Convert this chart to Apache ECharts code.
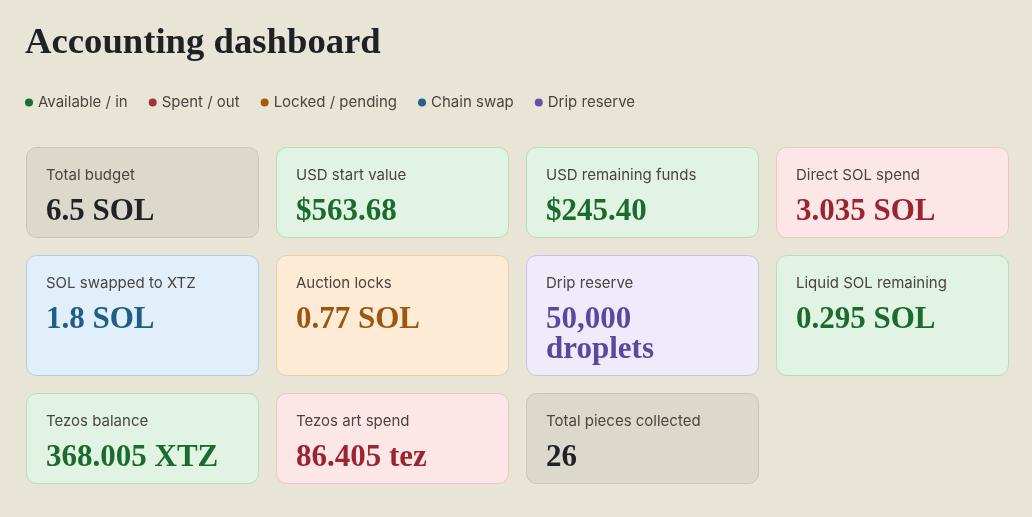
<!DOCTYPE html>
<html>
<head>
<meta charset="utf-8">
<title>Accounting dashboard</title>
<style>
  html, body { margin: 0; padding: 0; background: #e8e5d7; }
  #chart { width: 1032px; height: 517px; }
</style>
<script src="https://cdn.jsdelivr.net/npm/echarts@6/dist/echarts.min.js"></script>
</head>
<body>
<div id="chart"></div>
<script>
// card data, read left to right, top to bottom
var cardLabels = ['Total budget', 'USD start value', 'USD remaining funds', 'Direct SOL spend',
  'SOL swapped to XTZ', 'Auction locks', 'Drip reserve', 'Liquid SOL remaining',
  'Tezos balance', 'Tezos art spend', 'Total pieces collected'];
var cardValues = ['6.5 SOL', '$563.68', '$245.40', '3.035 SOL',
  '1.8 SOL', '0.77 SOL', '50,000\ndroplets', '0.295 SOL',
  '368.005 XTZ', '86.405 tez', '26'];
var cardKinds = ['neutral', 'in', 'in', 'out',
  'swap', 'locked', 'drip', 'in',
  'in', 'out', 'neutral'];
var columns = ['c1', 'c2', 'c3', 'c4'];

var legendNames = ['Available / in', 'Spent / out', 'Locked / pending', 'Chain swap', 'Drip reserve'];
var legendKinds = ['in', 'out', 'locked', 'swap', 'drip'];

var palette = {
  neutral: { fill: '#dcd9cc', stroke: '#c9c5b6', text: '#1f2326', dot: '#1f2326' },
  in:      { fill: '#e1f3e2', stroke: '#b7dcba', text: '#1b6b2f', dot: '#1b6e30' },
  out:     { fill: '#fde7e6', stroke: '#efc4c2', text: '#9b2432', dot: '#a5303f' },
  locked:  { fill: '#fdebd6', stroke: '#eccda6', text: '#9c560f', dot: '#a6570f' },
  swap:    { fill: '#e1effb', stroke: '#b3cde0', text: '#215e85', dot: '#24628e' },
  drip:    { fill: '#efebfb', stroke: '#c8c0e6', text: '#5b489e', dot: '#6650a8' }
};

var GAP = 17;      // space between cards
var ROW_H = 91;    // card height for one line of value
var LINE_H = 30;   // extra height per extra value line

function rowOf(i) { return Math.floor(i / columns.length); }

function rowLines(r) {
  var n = 1;
  cardValues.forEach(function (v, i) {
    if (rowOf(i) === r) n = Math.max(n, v.split('\n').length);
  });
  return n;
}

function rowTop(r, y0) {
  var y = y0;
  for (var k = 0; k < r; k++) y += ROW_H + (rowLines(k) - 1) * LINE_H + GAP;
  return y;
}

function renderCard(params, api) {
  var col = api.value(0);
  var row = api.value(1);
  var i = api.value(2);
  var center = api.coord([col, 0]);
  var w = api.size([1, 0])[0] - GAP;
  var x = center[0] - w / 2;
  var y = rowTop(row, params.coordSys.y);
  var h = ROW_H + (rowLines(row) - 1) * LINE_H;
  var p = palette[cardKinds[i]];
  return {
    type: 'group',
    children: [{
      type: 'rect',
      shape: { x: x + 0.5, y: y + 0.5, width: w - 1, height: h - 1, r: 10 },
      style: { fill: p.fill, stroke: p.stroke, lineWidth: 1 }
    }, {
      type: 'text',
      x: x + 20,
      y: y + 28.5,
      style: {
        text: cardLabels[i], fill: '#4b4440',
        fontFamily: 'Inter', fontSize: 15, verticalAlign: 'middle'
      }
    }, {
      type: 'text',
      x: x + 20,
      y: y + 49.5,
      style: {
        text: cardValues[i], fill: p.text,
        fontFamily: 'Liberation Serif', fontWeight: 'bold', fontSize: 31,
        lineHeight: LINE_H, verticalAlign: 'top'
      }
    }]
  };
}

function seriesFor(kind, name) {
  var data = [];
  cardKinds.forEach(function (k, i) {
    if (k === kind) data.push([columns[i % columns.length], rowOf(i), i]);
  });
  return {
    type: 'custom',
    name: name,
    renderItem: renderCard,
    itemStyle: { color: palette[kind].dot },
    data: data,
    clip: false,
    silent: true
  };
}

var series = [seriesFor('neutral', 'Other')];
legendKinds.forEach(function (k, j) { series.push(seriesFor(k, legendNames[j])); });

var chart = echarts.init(document.getElementById('chart'), null, { renderer: 'canvas' });

var option = {
  backgroundColor: '#e8e5d7',
  animation: false,
  title: {
    text: 'Accounting dashboard',
    left: 25,
    top: 25,
    padding: 0,
    textStyle: {
      fontFamily: 'Liberation Serif', fontWeight: 'bold', fontSize: 36.7,
      lineHeight: 37, color: '#1e2226'
    }
  },
  legend: {
    data: legendNames,
    left: 25,
    top: 94,
    padding: 0,
    icon: 'circle',
    itemWidth: 8,
    itemHeight: 8,
    itemGap: 21,
    selectedMode: false,
    textStyle: { fontFamily: 'Inter', fontSize: 15, lineHeight: 17, color: '#4b4440' }
  },
  grid: { left: 17.5, right: 14.5, top: 147, bottom: 33 },
  xAxis: { type: 'category', data: columns, show: false },
  yAxis: { type: 'value', min: 0, max: 2, show: false },
  series: series
};

chart.setOption(option);
</script>
</body>
</html>
